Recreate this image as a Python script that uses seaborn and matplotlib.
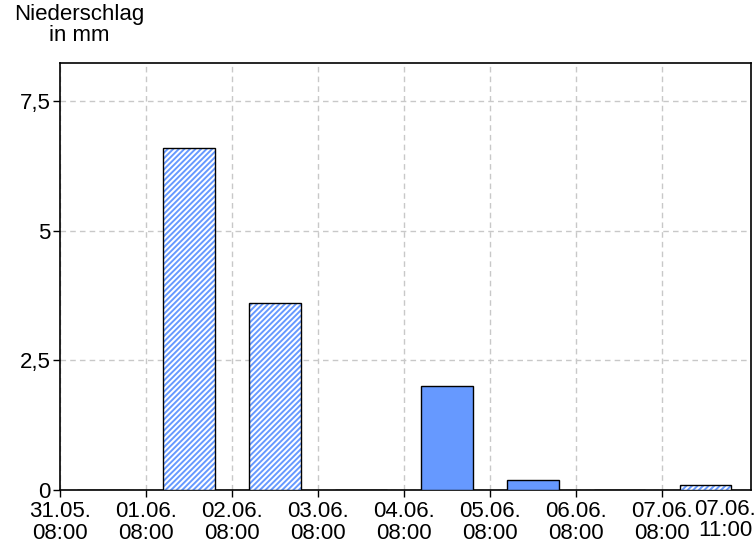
import numpy as np
import pandas as pd
import matplotlib
matplotlib.use("Agg")
import matplotlib.pyplot as plt
from matplotlib.patches import Rectangle
import seaborn as sns

# ── Daten ──
tage_start = [0, 1, 2, 3, 4, 5, 6, 7]          # Tage seit 31.05. 08:00
niederschlag = [0.0, 6.6, 3.6, 0.0, 2.0, 0.2, 0.0, 0.1]
art = ["Prognose", "Prognose", "Prognose", "Messung",
       "Messung", "Messung", "Messung", "Prognose"]
tick_pos = [0, 1, 2, 3, 4, 5, 6, 7]
tick_labels = ["31.05.\n08:00", "01.06.\n08:00", "02.06.\n08:00", "03.06.\n08:00",
               "04.06.\n08:00", "05.06.\n08:00", "06.06.\n08:00", "07.06.\n08:00"]
end_label = "07.06.\n11:00"
end_pos = 7.73
y_ticks = [0, 2.5, 5, 7.5]
y_labels = ["0", "2,5", "5", "7,5"]

df = pd.DataFrame({"mitte": np.array(tage_start) + 0.5,
                   "wert": niederschlag, "art": art})

sns.set_style("white")
plt.rcParams["font.family"] = ["Liberation Sans", "DejaVu Sans"]
plt.rcParams["hatch.linewidth"] = 1.4
plt.rcParams["text.color"] = "black"
plt.rcParams["xtick.color"] = "black"
plt.rcParams["ytick.color"] = "black"

blau = "#6699ff"
fs = 16
fig = plt.figure(figsize=(7.56, 5.46), dpi=100)
ax = fig.add_axes([60 / 756, 1 - 490 / 546, 691 / 756, 427 / 546])

sns.barplot(data=df, x="mitte", y="wert", hue="art", native_scale=True,
            palette={"Prognose": "white", "Messung": blau}, width=0.6,
            dodge=False, edgecolor="black", linewidth=1.0, legend=False,
            saturation=1, ax=ax, zorder=3)

# schraffierte Balken: blaue Schraffur, schwarzer Rand darüber
for patch in list(ax.patches):
    fc = patch.get_facecolor()
    if fc[0] > 0.99 and fc[1] > 0.99 and fc[2] > 0.99:
        patch.set_edgecolor(blau)
        patch.set_hatch("//////")
        patch.set_linewidth(0)
        ax.add_patch(Rectangle(patch.get_xy(), patch.get_width(), patch.get_height(),
                               fill=False, edgecolor="black", linewidth=1.0, zorder=4))

ax.set_xlim(0, 8.03)
ax.set_ylim(0, 8.23)
ax.set_xticks(tick_pos)
ax.set_xticklabels(tick_labels, fontsize=fs, linespacing=1.03)
ax.set_yticks(y_ticks)
ax.set_yticklabels(y_labels, fontsize=fs)
ax.tick_params(axis="both", direction="out", length=5, width=1, color="black",
               bottom=True, left=True, pad=2)
ax.tick_params(axis="x", pad=3)
ax.text(end_pos, -0.165, end_label, ha="center", va="top", fontsize=fs,
        linespacing=1.03)
ax.set_xlabel("")
ax.set_ylabel("")
ax.grid(True, color="#c8c8c8", linestyle=(0, (4, 3)), linewidth=1, zorder=0)
ax.set_axisbelow(True)
for s in ax.spines.values():
    s.set_visible(True)
    s.set_color("black")
    s.set_linewidth(1.2)

fig.text(79 / 756, 1 - 4 / 546, "Niederschlag\nin mm", ha="center", va="top",
         fontsize=fs, linespacing=1.0, multialignment="center")

fig.savefig("out.png", dpi=100)
